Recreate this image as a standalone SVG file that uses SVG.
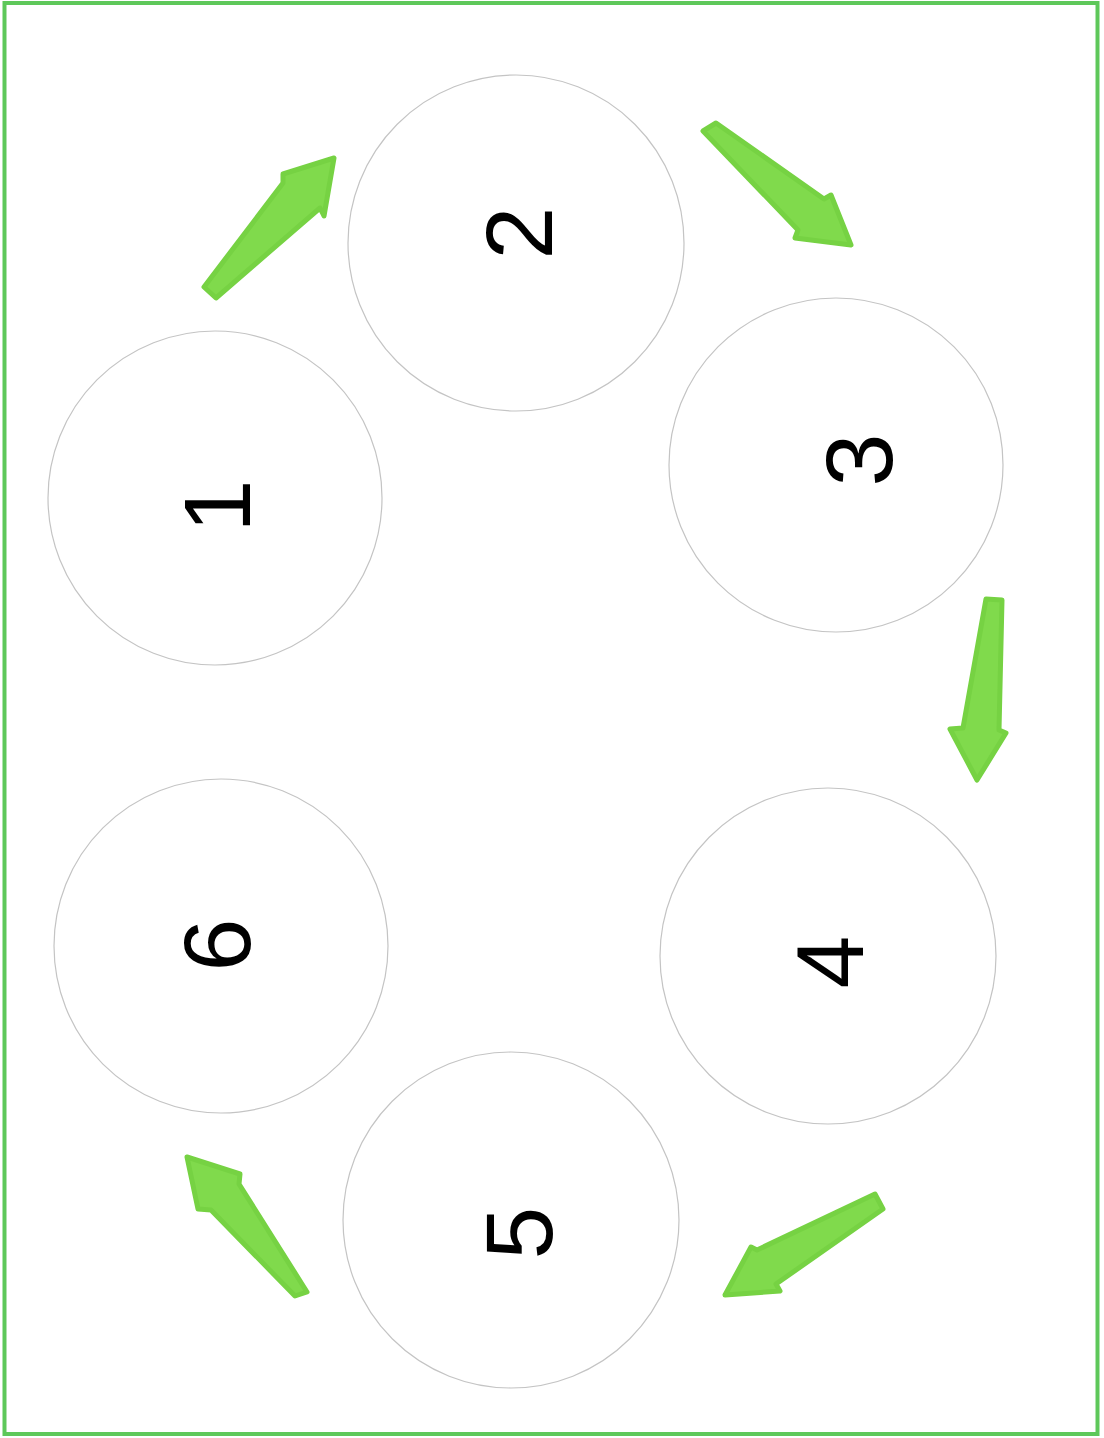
<svg xmlns="http://www.w3.org/2000/svg" width="1104" height="1438" viewBox="0 0 1104 1438">
<style>
.node circle{fill:#fff;stroke:#c4c4c4;stroke-width:1.2}
.node text{font-family:"Liberation Sans",Arial,sans-serif;font-size:95px;fill:#000;text-anchor:middle}
.arrow{fill:#80da4c;stroke:#76d243;stroke-width:5;stroke-linejoin:round}
</style>
<rect x="4.5" y="3" width="1093" height="1431" fill="#fff" stroke="#5ec85a" stroke-width="4"/>
<g id="node1" class="node"><circle cx="215" cy="498" r="167"/><text transform="translate(250,506) rotate(-90)">1</text></g>
<g id="node2" class="node"><circle cx="516" cy="243" r="168"/><text transform="translate(552,233) rotate(-90)">2</text></g>
<g id="node3" class="node"><circle cx="836" cy="465" r="167"/><text transform="translate(892,460) rotate(-90)">3</text></g>
<g id="node4" class="node"><circle cx="828" cy="956" r="168"/><text transform="translate(863,962) rotate(-90)">4</text></g>
<g id="node5" class="node"><circle cx="511" cy="1220" r="168"/><text transform="translate(552,1233) rotate(-90)">5</text></g>
<g id="node6" class="node"><circle cx="221" cy="946" r="167"/><text transform="translate(250,945) rotate(-90)">6</text></g>
<g id="connectors">
<polygon class="arrow" points="204,287 283,183 283,174 334,158 324,216 320,208 216,298"/>
<polygon class="arrow" points="703,131 716,123 824,199 831,195 851,245 795,238 798,230"/>
<polygon class="arrow" points="986,599 1002,600 999,730 1006,733 977,780 950,729 963,728"/>
<polygon class="arrow" points="875,1194 883,1209 776,1284 780,1291 725,1295 751,1247 757,1250"/>
<polygon class="arrow" points="307,1292 295,1296 211,1210 198,1209 187,1157 240,1174 239,1184"/>
</g>
</svg>
